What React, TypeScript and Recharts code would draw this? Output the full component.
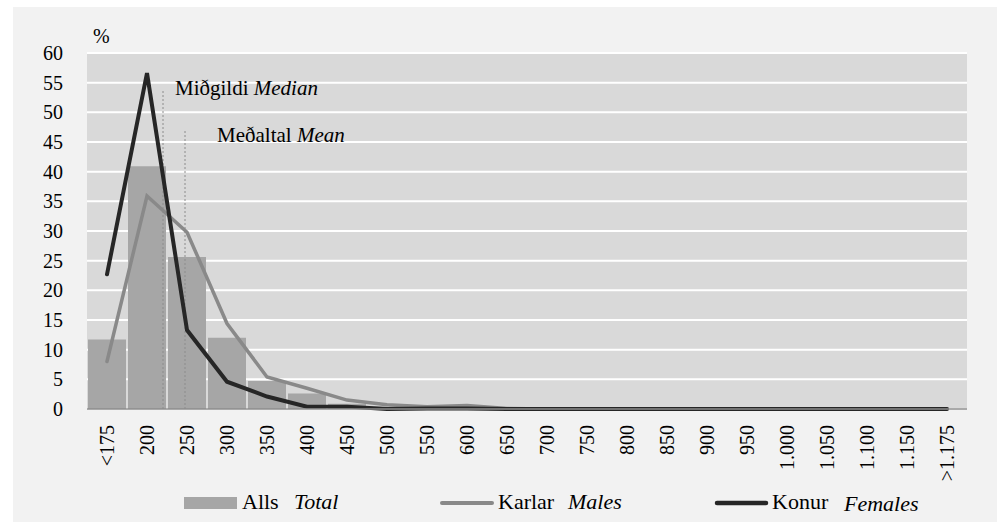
import React from "react";
import {
  ComposedChart,
  Bar,
  Line,
  XAxis,
  YAxis,
  CartesianGrid,
  ReferenceLine,
  Legend,
} from "recharts";

const categories = [
  "<175", "200", "250", "300", "350", "400", "450", "500", "550", "600", "650",
  "700", "750", "800", "850", "900", "950", "1.000", "1.050", "1.100", "1.150", ">1.175",
];
const totalValues = [11.7, 40.9, 25.6, 12.0, 4.7, 2.6, 0.9, 0.4, 0.2, 0.3, 0.1, 0, 0, 0, 0, 0, 0, 0, 0, 0, 0, 0];
const malesValues = [8.0, 35.9, 29.8, 14.4, 5.4, 3.5, 1.5, 0.7, 0.4, 0.6, 0.1, 0, 0, 0, 0, 0, 0, 0, 0, 0, 0, 0];
const femalesValues = [22.7, 56.6, 13.3, 4.6, 2.1, 0.4, 0.4, 0.0, 0.1, 0.1, 0, 0, 0, 0, 0, 0, 0, 0, 0, 0, 0, 0];
const yTicks = [0, 5, 10, 15, 20, 25, 30, 35, 40, 45, 50, 55, 60];

// median / mean on a continuous scale over the categories (0 = left edge of "<175", 1 per bin)
const medianPos = 1.9;
const medianTop = 53.8;
const meanPos = 2.45;
const meanTop = 47;

const data = categories.map((c, i) => ({
  cat: c,
  pos: i + 0.5,
  total: totalValues[i],
  males: malesValues[i],
  females: femalesValues[i],
}));

const FONT = "Liberation Serif";

const XTick = (props: any) => {
  const { x, y, payload } = props;
  const ty = y + 16;
  return (
    <text
      x={x}
      y={ty}
      transform={`rotate(-90, ${x}, ${ty})`}
      textAnchor="end"
      dy="0.35em"
      fontFamily={FONT}
      fontSize={20}
      fill="#000"
    >
      {payload.value}
    </text>
  );
};

const RefLabel = (props: any) => {
  const { viewBox, main, italic, dx, dy } = props;
  return (
    <text x={viewBox.x + dx} y={viewBox.y + dy} fontFamily={FONT} fontSize={21} fill="#000">
      {main} <tspan fontStyle="italic">{italic}</tspan>
    </text>
  );
};

const LegendBox = () => (
  <svg width={954} height={30} style={{ display: "block" }} fontFamily={FONT}>
    <rect x={171} y={11} width={53} height={12} fill="#a6a6a6" />
    <text x={229} y={23} fontSize={22}>Alls</text>
    <text x={281} y={23} fontSize={22} fontStyle="italic">Total</text>
    <line x1={429} x2={479} y1={17} y2={17} stroke="#898989" strokeWidth={4} strokeLinecap="round" />
    <text x={485} y={23} fontSize={22}>Karlar</text>
    <text x={555} y={23} fontSize={22} fontStyle="italic">Males</text>
    <line x1={704} x2={753} y1={17} y2={17} stroke="#262626" strokeWidth={4.5} strokeLinecap="round" />
    <text x={759} y={23} fontSize={22}>Konur</text>
    <text x={831} y={25} fontSize={22} fontStyle="italic">Females</text>
  </svg>
);

export default function App() {
  return (
    <div
      style={{
        position: "absolute",
        left: 13,
        top: 7,
        width: 984,
        height: 515,
        background: "#f2f2f2",
      }}
    >
      <ComposedChart
        width={984}
        height={515}
        data={data}
        margin={{ top: 46, right: 30, bottom: 6, left: 0 }}
        barCategoryGap={1}
      >
        <CartesianGrid vertical={false} stroke="#ffffff" strokeWidth={2} fill="#d9d9d9" />
        <XAxis
          xAxisId="cat"
          dataKey="cat"
          interval={0}
          tickLine={false}
          tickSize={0}
          tickMargin={0}
          axisLine={{ stroke: "#8c8c8c", strokeWidth: 1.5 }}
          height={77}
          tick={<XTick />}
        />
        <XAxis xAxisId="num" dataKey="pos" type="number" domain={[0, 22]} allowDataOverflow hide />
        <YAxis
          domain={[0, 60]}
          ticks={yTicks}
          interval={0}
          width={74}
          tickSize={0}
          tickMargin={24}
          axisLine={false}
          tickLine={false}
          tick={{ fontSize: 20, fill: "#000", fontFamily: FONT }}
          label={(p: any) => (
            <text x={p.viewBox.x + p.viewBox.width + 6} y={p.viewBox.y - 10} fontFamily={FONT} fontSize={20}>
              %
            </text>
          )}
        />
        <Bar xAxisId="cat" dataKey="total" fill="#a6a6a6" isAnimationActive={false} />
        <ReferenceLine
          xAxisId="num"
          segment={[{ x: medianPos, y: 0 }, { x: medianPos, y: medianTop }]}
          stroke="#8c8c8c"
          strokeDasharray="2 2"
          label={<RefLabel main="Miðgildi" italic="Median" dx={12} dy={5} />}
        />
        <ReferenceLine
          xAxisId="num"
          segment={[{ x: meanPos, y: 0 }, { x: meanPos, y: meanTop }]}
          stroke="#8c8c8c"
          strokeDasharray="2 2"
          label={<RefLabel main="Meðaltal" italic="Mean" dx={32} dy={12} />}
        />
        <Line
          xAxisId="cat"
          dataKey="males"
          stroke="#898989"
          strokeWidth={3.5}
          dot={false}
          strokeLinecap="round"
          isAnimationActive={false}
        />
        <Line
          xAxisId="cat"
          dataKey="females"
          stroke="#262626"
          strokeWidth={4}
          dot={false}
          strokeLinecap="round"
          isAnimationActive={false}
        />
        <Legend verticalAlign="bottom" height={30} content={<LegendBox />} />
      </ComposedChart>
    </div>
  );
}
